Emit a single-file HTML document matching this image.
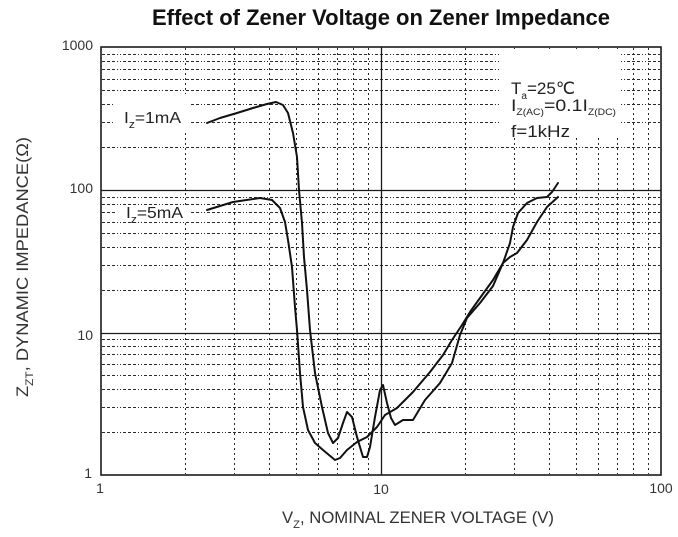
<!DOCTYPE html>
<html><head><meta charset="utf-8"><style>
html,body{margin:0;padding:0;background:#fff;}
svg{display:block;}
text{font-family:"Liberation Sans",Arial,sans-serif;}
</style></head><body>
<svg width="678" height="537" viewBox="0 0 678 537" xmlns="http://www.w3.org/2000/svg">
<rect width="678" height="537" fill="#fff"/>
<!-- title -->
<text x="381" y="25" font-size="22" font-weight="bold" text-anchor="middle" fill="#111">Effect of Zener Voltage on Zener Impedance</text>

<!-- minor horizontal grid -->
<g stroke="#2a2a2a" stroke-width="1" stroke-dasharray="3 2 3 2 3 2 1 2 1 2" fill="none">
<line x1="102" x2="660" y1="432.5" y2="432.5"/>
<line x1="102" x2="660" y1="407.5" y2="407.5"/>
<line x1="102" x2="660" y1="389.5" y2="389.5"/>
<line x1="102" x2="660" y1="375.5" y2="375.5"/>
<line x1="102" x2="660" y1="364.5" y2="364.5"/>
<line x1="102" x2="660" y1="354.5" y2="354.5"/>
<line x1="102" x2="660" y1="346.5" y2="346.5"/>
<line x1="102" x2="660" y1="339.5" y2="339.5"/>
<line x1="102" x2="660" y1="290.5" y2="290.5"/>
<line x1="102" x2="660" y1="265.5" y2="265.5"/>
<line x1="102" x2="660" y1="247.5" y2="247.5"/>
<line x1="102" x2="660" y1="233.5" y2="233.5"/>
<line x1="102" x2="660" y1="222.5" y2="222.5"/>
<line x1="102" x2="660" y1="212.5" y2="212.5"/>
<line x1="102" x2="660" y1="204.5" y2="204.5"/>
<line x1="102" x2="660" y1="197.5" y2="197.5"/>
<line x1="102" x2="660" y1="147.5" y2="147.5"/>
<line x1="102" x2="660" y1="122.5" y2="122.5"/>
<line x1="102" x2="660" y1="104.5" y2="104.5"/>
<line x1="102" x2="660" y1="90.5" y2="90.5"/>
<line x1="102" x2="660" y1="79.5" y2="79.5"/>
<line x1="102" x2="660" y1="69.5" y2="69.5"/>
<line x1="102" x2="660" y1="61.5" y2="61.5"/>
<line x1="102" x2="660" y1="54.5" y2="54.5"/>
</g>
<!-- minor vertical grid -->
<g stroke="#2a2a2a" stroke-width="1" stroke-dasharray="2 3" fill="none">
<line y1="48" y2="474" x1="185.5" x2="185.5"/>
<line y1="48" y2="474" x1="234.5" x2="234.5"/>
<line y1="48" y2="474" x1="269.5" x2="269.5"/>
<line y1="48" y2="474" x1="296.5" x2="296.5"/>
<line y1="48" y2="474" x1="318.5" x2="318.5"/>
<line y1="48" y2="474" x1="337.5" x2="337.5"/>
<line y1="48" y2="474" x1="353.5" x2="353.5"/>
<line y1="48" y2="474" x1="368.5" x2="368.5"/>
<line y1="48" y2="474" x1="465.5" x2="465.5"/>
<line y1="48" y2="474" x1="514.5" x2="514.5"/>
<line y1="48" y2="474" x1="549.5" x2="549.5"/>
<line y1="48" y2="474" x1="576.5" x2="576.5"/>
<line y1="48" y2="474" x1="598.5" x2="598.5"/>
<line y1="48" y2="474" x1="617.5" x2="617.5"/>
<line y1="48" y2="474" x1="633.5" x2="633.5"/>
<line y1="48" y2="474" x1="648.5" x2="648.5"/>
</g>
<!-- label backgrounds -->
<rect x="113" y="94" width="77" height="37" fill="#fff"/>
<rect x="115" y="205" width="75" height="17" fill="#fff"/>
<rect x="500" y="49" width="120" height="87" fill="#fff"/>

<!-- major grid -->
<g stroke="#1a1a1a" stroke-width="1.3" fill="none">
<line x1="101" x2="661" y1="190.5" y2="190.5"/>
<line x1="101" x2="661" y1="333.5" y2="333.5"/>
<line x1="381.5" x2="381.5" y1="47" y2="475"/>
</g>
<!-- frame -->
<rect x="101" y="47" width="560" height="428" fill="none" stroke="#1a1a1a" stroke-width="1.6"/>

<!-- curves -->
<g fill="none" stroke="#111" stroke-width="2" stroke-linejoin="round" stroke-linecap="round">
<polyline points="207,123 220,118 237,113 253,108 267,104 276,102 283,105 288,113 293,133 297,157 299,190 302,223 304,257 307,290 310,330 315,373 322,407 328,433 333,443 338,438 343,423 347,412 352,417 357,437 363,457 367,457 370,447 375,417 380,390 383,385 387,403 391,418 395,425 403,420 413,420 425,400 440,383 452,363 460,335 467,318 480,303 493,286 503,263 510,243 513,227 518,213 527,203 537,198 547,197 552,192 558,183"/>
<polyline points="207,210 220,206 233,202 260,198 272,200 280,208 285,222 288,240 292,267 295,307 297,330 300,373 303,407 308,430 315,443 323,450 335,460 340,458 347,450 357,442 367,437 377,427 385,415 397,408 413,392 430,372 443,355 452,340 462,325 470,312 480,298 493,280 503,263 510,257 517,253 527,240 537,222 547,207 558,197"/>
</g>

<!-- curve labels -->
<text x="124" y="123" font-size="16" fill="#222" textLength="57" lengthAdjust="spacingAndGlyphs">I<tspan font-size="11" dy="5">z</tspan><tspan dy="-5">=1mA</tspan></text>
<text x="126" y="218" font-size="16" fill="#222" textLength="57" lengthAdjust="spacingAndGlyphs">I<tspan font-size="11" dy="5">z</tspan><tspan dy="-5">=5mA</tspan></text>

<!-- annotation -->
<text x="511" y="94" font-size="17" fill="#222" textLength="64" lengthAdjust="spacingAndGlyphs">T<tspan font-size="10" dy="5">a</tspan><tspan dy="-5">=25℃</tspan></text>
<text x="511" y="111" font-size="17" fill="#222" textLength="105" lengthAdjust="spacingAndGlyphs">I<tspan font-size="9" dy="4">Z(AC)</tspan><tspan dy="-4">=0.1I</tspan><tspan font-size="9" dy="4">Z(DC)</tspan></text>
<text x="511" y="137" font-size="17" fill="#222" textLength="59" lengthAdjust="spacingAndGlyphs">f=1kHz</text>

<!-- y tick labels -->
<g font-size="14" fill="#333" text-anchor="end">
<text x="93" y="50">1000</text>
<text x="93" y="193">100</text>
<text x="93" y="340">10</text>
<text x="92" y="478">1</text>
</g>
<!-- x tick labels -->
<g font-size="14" fill="#333" text-anchor="middle">
<text x="100" y="493">1</text>
<text x="381" y="494">10</text>
<text x="661" y="493">100</text>
</g>

<!-- axis titles -->
<text x="282" y="523" font-size="16.5" fill="#333" textLength="272" lengthAdjust="spacingAndGlyphs">V<tspan font-size="11" dy="5">Z</tspan><tspan dy="-5">, NOMINAL ZENER VOLTAGE (V)</tspan></text>
<text transform="translate(28,397) rotate(-90)" x="0" y="0" font-size="17" fill="#333" textLength="260" lengthAdjust="spacingAndGlyphs">Z<tspan font-size="11" dy="5">ZT</tspan><tspan dy="-5">, DYNAMIC IMPEDANCE(Ω)</tspan></text>
</svg>
</body></html>
